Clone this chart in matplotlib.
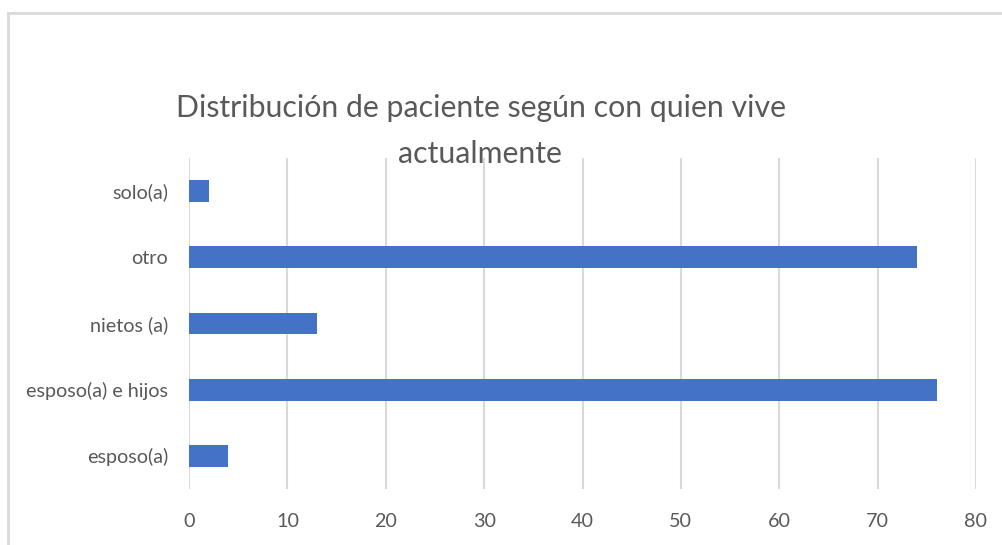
import matplotlib
matplotlib.use("Agg")
import matplotlib.pyplot as plt
from matplotlib.lines import Line2D

categories = ["esposo(a)", "esposo(a) e hijos", "nietos (a)", "otro", "solo(a)"]
values = [4, 76, 13, 74, 2]
xticks = [0, 10, 20, 30, 40, 50, 60, 70, 80]
title_lines = ["Distribución de paciente según con quien vive", "actualmente"]

plt.rcParams['font.family'] = ['Lato', 'DejaVu Sans']

W, H = 1003, 545
fig = plt.figure(figsize=(W / 100, H / 100), dpi=100)
ax = fig.add_axes([189 / W, 56 / H, (976 - 189) / W, (489 - 158) / H])

ypos = list(range(len(categories)))
ax.barh(ypos, values, height=0.33, color="#4472C4", zorder=3)
ax.set_xlim(0, 80)
ax.set_ylim(-0.5, len(categories) - 0.5)
ax.set_xticks(xticks)
ax.set_xticklabels([str(t) for t in xticks])
ax.set_yticks(ypos)
ax.set_yticklabels(categories)
ax.grid(axis="x", color="#d9d9d9", linewidth=1.5, zorder=0)
for s in ax.spines.values():
    s.set_visible(False)
ax.tick_params(axis="both", length=0, labelsize=14.2, labelcolor="#595959")
ax.tick_params(axis="x", pad=17)
ax.tick_params(axis="y", pad=15)

fig.text(481 / W, 1 - 108 / H, title_lines[0], ha="center", va="center",
         fontsize=21.8, color="#595959")
fig.text(480 / W, 1 - 154 / H, title_lines[1], ha="center", va="center",
         fontsize=21.8, color="#595959")

fig.add_artist(Line2D([8 / W, 1.0], [1 - 13 / H, 1 - 13 / H], transform=fig.transFigure,
                      color="#d9d9d9", linewidth=2))
fig.add_artist(Line2D([8 / W, 8 / W], [1 - 13 / H, 0], transform=fig.transFigure,
                      color="#d9d9d9", linewidth=2))

fig.savefig("out.png", dpi=100)
